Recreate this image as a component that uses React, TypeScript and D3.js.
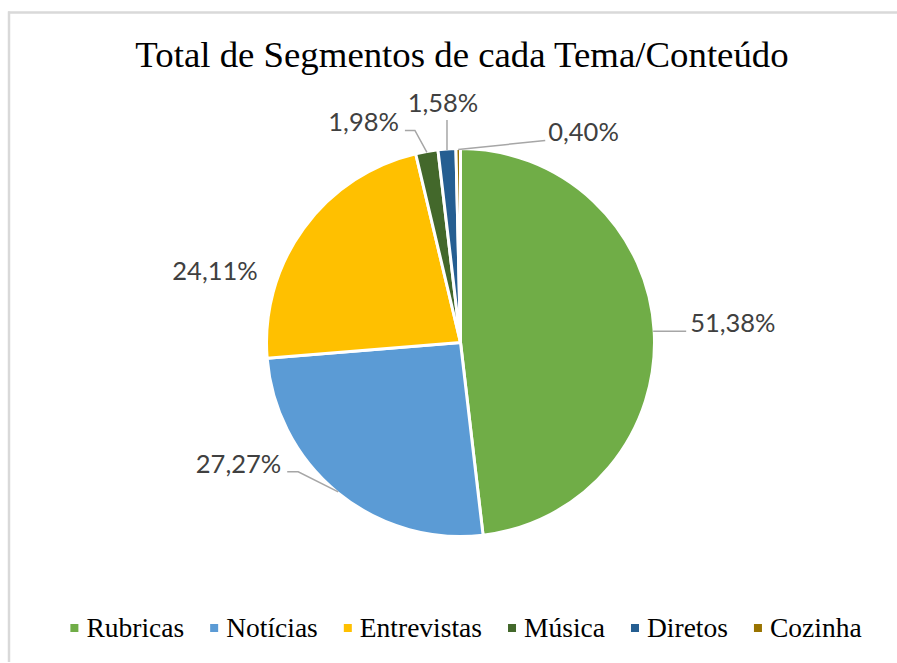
import React, { useEffect, useRef } from 'react';
import * as d3 from 'd3';

// chart data
const categories = ['Rubricas', 'Notícias', 'Entrevistas', 'Música', 'Diretos', 'Cozinha'];
const values = [51.38, 27.27, 24.11, 1.98, 1.58, 0.4];
const colors = ['#70AD47', '#5B9BD5', '#FFC000', '#43682B', '#255E91', '#997300'];
const title = 'Total de Segmentos de cada Tema/Conteúdo';

// label placement, relative to the point on the rim at the slice's mid angle
const labelLayout = [
  { leader: [[33, 0]], tx: 37, ty: 1, anchor: 'start' },
  { leader: [[-40, -20], [-51, -20]], tx: -57, ty: -19, anchor: 'end' },
  { leader: [], tx: -132, ty: 51, anchor: 'start' },
  { leader: [[-12, -22], [-22, -22]], tx: -28, ty: -21, anchor: 'end' },
  { leader: [[0, -30]], tx: -4, ty: -38, anchor: 'middle' },
  { leader: [[87, -9]], tx: 90, ty: -9, anchor: 'start' },
];

const W = 897;
const H = 663;
const cx = 460.5;
const cy = 342.5;
const R = 194;

const fmt = (v) => d3.format('.2f')(v).replace('.', ',') + '%';

const App = () => {
  const ref = useRef();

  useEffect(() => {
    const svg = d3.select(ref.current);
    svg.selectAll('*').remove();

    // frame
    svg.append('line').attr('x1', 9).attr('x2', 9).attr('y1', 11.5).attr('y2', 662)
      .attr('stroke', '#d9d9d9').attr('stroke-width', 2.5);
    svg.append('line').attr('x1', 8).attr('x2', W).attr('y1', 12.5).attr('y2', 12.5)
      .attr('stroke', '#d9d9d9').attr('stroke-width', 2.5);

    svg.append('text')
      .attr('x', 462)
      .attr('y', 67)
      .attr('text-anchor', 'middle')
      .style('font-family', '"Liberation Serif", "Times New Roman", serif')
      .style('font-size', '36.8px')
      .style('fill', '#000')
      .text(title);

    const pie = d3.pie().value((d) => d).sort(null);
    const arcs = pie(values);
    const arc = d3.arc().innerRadius(0).outerRadius(R);

    const g = svg.append('g').attr('transform', `translate(${cx},${cy})`);
    g.selectAll('path.slice')
      .data(arcs)
      .enter()
      .append('path')
      .attr('class', 'slice')
      .attr('d', arc)
      .attr('fill', (d, i) => colors[i])
      .attr('stroke', '#fff')
      .attr('stroke-width', 3)
      .attr('stroke-linejoin', 'round');

    // data labels with leader lines
    arcs.forEach((d, i) => {
      const mid = (d.startAngle + d.endAngle) / 2;
      const ax = (R - 1) * Math.sin(mid);
      const ay = -(R - 1) * Math.cos(mid);
      const lay = labelLayout[i];
      if (lay.leader.length) {
        const pts = [[ax, ay], ...lay.leader.map(([dx, dy]) => [ax + dx, ay + dy])];
        g.append('path')
          .attr('d', d3.line()(pts))
          .attr('fill', 'none')
          .attr('stroke', '#a6a6a6')
          .attr('stroke-width', 1.5);
      }
      g.append('text')
        .attr('x', ax + lay.tx)
        .attr('y', ay + lay.ty)
        .attr('text-anchor', lay.anchor)
        .style('font-family', 'Lato, "Open Sans", sans-serif')
        .style('font-size', '25.5px')
        .style('fill', '#404040')
        .text(fmt(values[i]));
    });

    // legend, laid out from measured text widths and centred
    const legend = svg.append('g');
    let x = 0;
    categories.forEach((c, i) => {
      legend.append('rect')
        .attr('x', x)
        .attr('y', 624)
        .attr('width', 8)
        .attr('height', 8)
        .attr('fill', colors[i]);
      const t = legend.append('text')
        .attr('x', x + 16)
        .attr('y', 637)
        .style('font-family', '"Liberation Serif", "Times New Roman", serif')
        .style('font-size', '27.5px')
        .style('fill', '#000')
        .text(c);
      x += 16 + t.node().getComputedTextLength() + 26;
    });
    const total = x - 26;
    legend.attr('transform', `translate(${466 - total / 2},0)`);
  }, []);

  return (
    <svg
      ref={ref}
      width={W}
      height={H}
      style={{ position: 'absolute', left: 0, top: 0, background: '#fff' }}
    />
  );
};

export default App;
